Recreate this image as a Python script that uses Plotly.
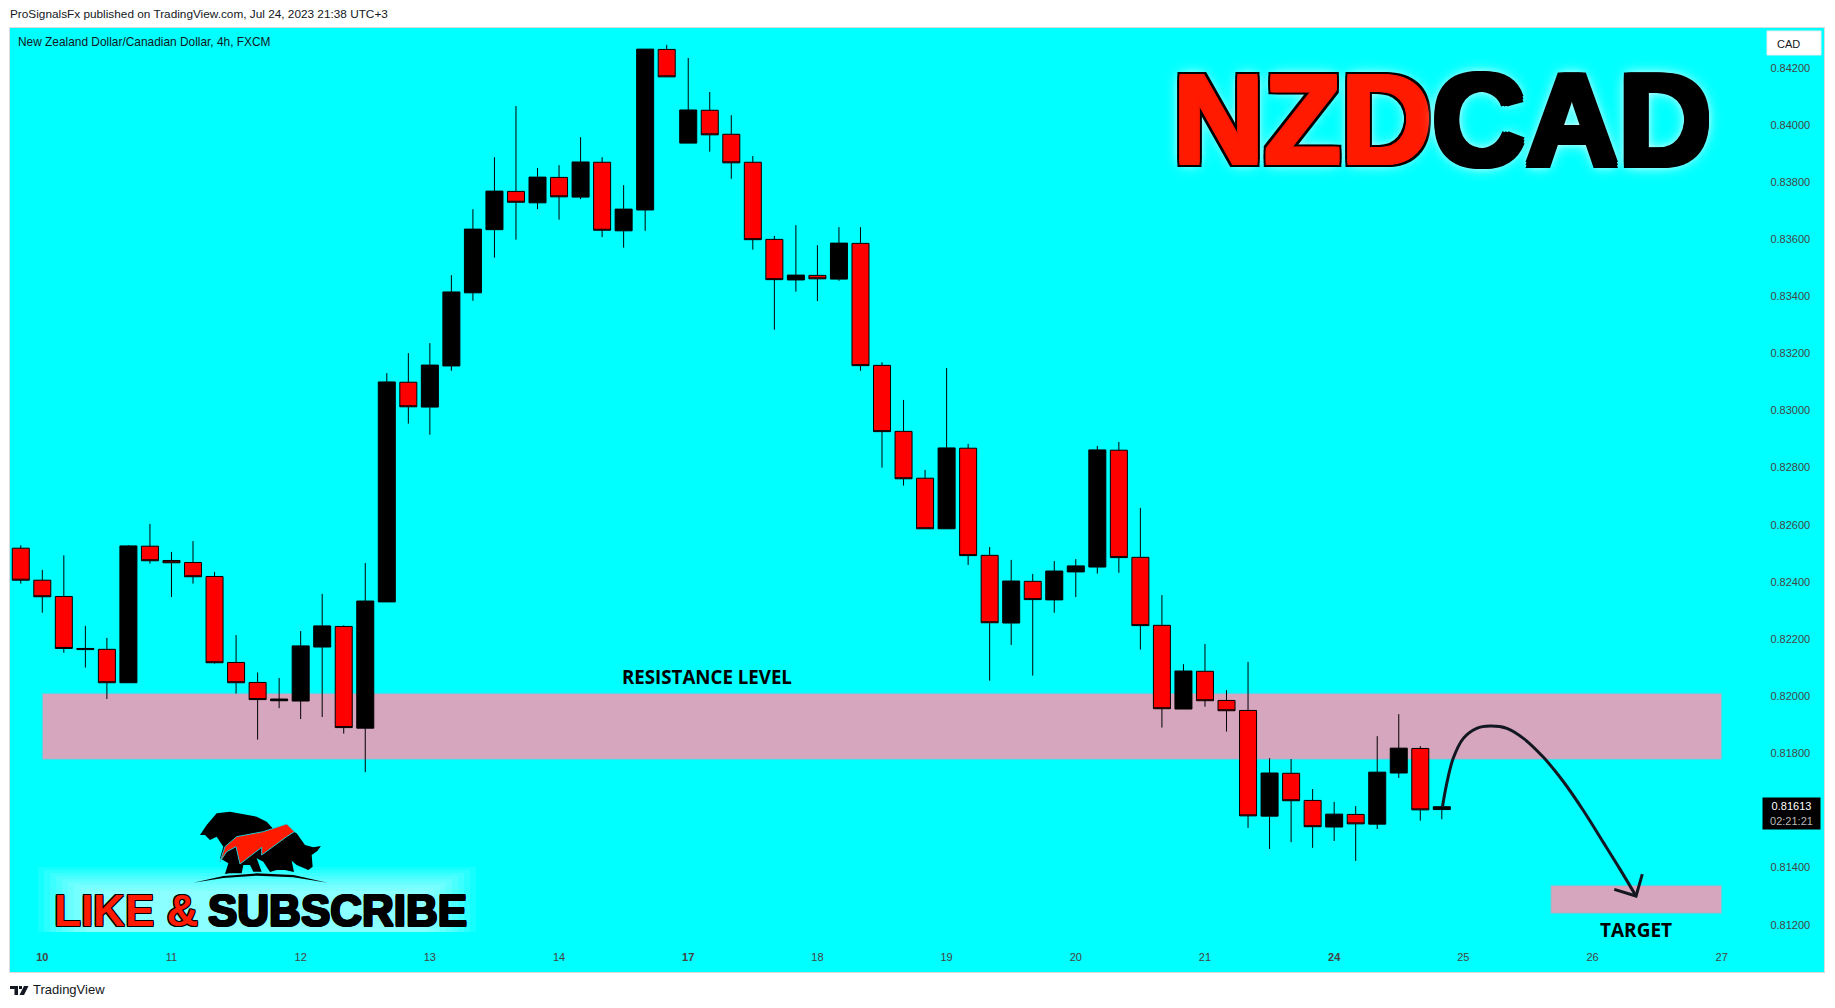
import plotly.graph_objects as go

# ---------- data ----------
opens = [.82518,.82406,.82349,.82163,.82164,.82047,.82525,.82475,.82468,.82419,.82118,.82048,.81984,.81983,.82172,.82244,.81888,.82330,.83099,.83012,.83156,.83412,.83633,.83767,.83727,.83816,.83747,.83869,.83629,.83702,.84264,.83936,.84051,.83967,.83869,.83599,.83457,.83473,.83460,.83585,.83158,.82927,.82763,.82586,.82868,.82493,.82256,.82402,.82337,.82435,.82452,.82861,.82486,.82248,.81955,.82087,.81985,.81950,.81580,.81730,.81635,.81542,.81586,.81552,.81731,.81817,.81603]
highs = [.82528,.82442,.82493,.82246,.82204,.82529,.82603,.82505,.82543,.82435,.82214,.82083,.82064,.82228,.82358,.82248,.82466,.83131,.83201,.83236,.83474,.83705,.83887,.84066,.83849,.83859,.83957,.83887,.83789,.84265,.84280,.84234,.84115,.84034,.83891,.83611,.83649,.83579,.83642,.83642,.83169,.83037,.82792,.83149,.82883,.82522,.82477,.82428,.82473,.82480,.82876,.82890,.82659,.82354,.82112,.82183,.82021,.82120,.81783,.81780,.81675,.81630,.81615,.81860,.81937,.81825,.81613]
lows = [.82394,.82292,.82152,.82100,.81990,.82047,.82464,.82347,.82394,.82114,.82009,.81848,.81958,.81920,.81927,.81869,.81734,.82330,.82954,.82915,.83139,.83384,.83535,.83598,.83705,.83668,.83740,.83607,.83570,.83629,.84168,.83936,.83906,.83811,.83563,.83283,.83416,.83383,.83454,.83139,.82800,.82737,.82586,.82586,.82459,.82054,.82179,.82072,.82292,.82347,.82429,.82432,.82163,.81890,.81955,.81963,.81876,.81539,.81465,.81489,.81469,.81493,.81423,.81535,.81714,.81564,.81569]
closes = [.82406,.82348,.82167,.82167,.82047,.82526,.82474,.82467,.82418,.82117,.82047,.81988,.81990,.82176,.82246,.81890,.82333,.83100,.83013,.83159,.83415,.83635,.83768,.83729,.83817,.83748,.83870,.83631,.83705,.84265,.84168,.84052,.83965,.83867,.83598,.83458,.83474,.83461,.83586,.83157,.82926,.82761,.82586,.82869,.82492,.82257,.82403,.82338,.82438,.82456,.82862,.82485,.82247,.81956,.82088,.81984,.81949,.81581,.81731,.81634,.81543,.81587,.81553,.81734,.81818,.81602,.81613]

candle_index = list(range(len(opens)))
day_ticks = [1, 7, 13, 19, 25, 31, 37, 43, 49, 55, 61, 67, 73, 79]
day_labels = ["<b>10</b>", "11", "12", "13", "14", "<b>17</b>", "18", "19", "20", "21", "<b>24</b>", "25", "26", "27"]
# 0.81600 sits behind the live price label in the reference, so it is not shown
price_ticks = [.812, .814, .818, .820, .822, .824, .826, .828, .830, .832, .834, .836, .838, .840, .842]

resistance_zone = dict(x0=1, x1=79, y0=.817789, y1=.820099)
target_zone = dict(x0=71.06, x1=79, y0=.812397, y1=.813377)

curve_x = [66.03, 66.23, 66.53, 67.0, 67.62, 68.24, 69.02, 69.79, 70.72, 71.65, 72.58, 73.5, 74.28, 75.02]
curve_y = [.81613, .816948, .817824, .818523, .818874, .818954, .818874, .818523, .817858, .817004, .815989, .814883, .813937, .813003]
head_x = [74.01, 75.02, 75.31]
head_y = [.813237, .813003, .813773]

INK = "#131722"
# ---------- figure geometry ----------
W, H = 1835, 1008
L, R, T, B = 10, 1824, 28, 972


def paper_x(p):
    return (p - L) / (R - L)


def paper_y(p):
    return (B - p) / (B - T)


def note(text, x, y, size, color=INK, family="Liberation Sans", xanchor="left", weight=None, shadow=None):
    font = dict(family=family, size=size, color=color)
    if weight:
        font["weight"] = weight
    if shadow:
        font["shadow"] = shadow
    return dict(text=text, x=paper_x(x), y=paper_y(y), xref="paper", yref="paper", showarrow=False,
                xanchor=xanchor, yanchor="middle", font=font, borderpad=0)


def ring(px, colour):
    return [f"{dx}px {dy}px 0 {colour}" for dx, dy in
            [(px, 0), (-px, 0), (0, px), (0, -px), (px, px), (-px, px), (px, -px), (-px, -px)]]


def logo_path(points):
    pts = [(30 + a / 3, 790 + b / 3) for a, b in points]
    return "M " + " L ".join(f"{paper_x(a):.5f},{paper_y(b):.5f}" for a, b in pts) + " Z"


def px_path(points):
    return "M " + " L ".join(f"{paper_x(a):.5f},{paper_y(b):.5f}" for a, b in points) + " Z"


animal = [(510,135),(530,105),(560,70),(600,65),(680,80),(710,95),(728,115),(760,110),(800,130),(825,165),(850,172),(873,168),(862,183),(845,195),(848,230),(835,240),(800,225),(785,212),(792,246),(765,240),(740,240),(720,246),(700,215),(680,205),(695,245),(670,245),(660,225),(640,225),(635,250),(600,250),(585,252),(595,220),(570,205),(580,170),(560,140),(540,150),(525,135)]
red_flash = [(570,215),(585,170),(620,140),(700,125),(770,102),(793,125),(770,140),(695,195),(695,172),(630,222),(618,170),(590,185)]
ground = [(490,278),(580,258),(680,250),(790,255),(893,278),(790,262),(680,257),(580,264)]
tv_bar = [(10,986),(18,986),(18,995),(14.5,995),(14.5,989),(10,989)]
tv_dot = [(19,986),(22,986),(22,989),(19,989)]
tv_slash = [(24,986),(28.5,986),(24,995),(19.5,995)]

fig = go.Figure()
fig.add_trace(go.Candlestick(
    x=candle_index, open=opens, high=highs, low=lows, close=closes,
    increasing=dict(fillcolor="#000000", line=dict(color="#000000", width=1)),
    decreasing=dict(fillcolor="#FF0000", line=dict(color="#000000", width=1)),
    whiskerwidth=0, showlegend=False, hoverinfo="skip",
))
fig.add_trace(go.Scatter(x=curve_x, y=curve_y, mode="lines", line=dict(color=INK, width=3, shape="spline", smoothing=1),
                         showlegend=False, hoverinfo="skip"))
fig.add_trace(go.Scatter(x=head_x, y=head_y, mode="lines", line=dict(color=INK, width=3),
                         showlegend=False, hoverinfo="skip"))

zone_style = dict(type="rect", fillcolor="#D5A6BD", line=dict(color="#4FD8E6", width=1), layer="below")
shapes = [dict(**zone_style, **resistance_zone), dict(**zone_style, **target_zone)]
# soft pale glow behind the subscribe banner
for k in range(9):
    shapes.append(dict(type="rect", xref="paper", yref="paper", x0=paper_x(38 + k * 6), x1=paper_x(476 - k * 6),
                       y0=paper_y(932), y1=paper_y(867 + k * 3), fillcolor="rgba(255,255,255,0.085)", line=dict(width=0)))
for pts, colour in [(animal, "#000000"), (red_flash, "#FF1A00"), (ground, "#000000")]:
    shapes.append(dict(type="path", xref="paper", yref="paper", path=logo_path(pts), fillcolor=colour, line=dict(width=0)))
shapes.append(dict(type="path", xref="paper", yref="paper", path=logo_path(red_flash), fillcolor="rgba(0,0,0,0)", line=dict(color="#20C8D0", width=1)))
for pts in (tv_bar, tv_dot, tv_slash):
    shapes.append(dict(type="path", xref="paper", yref="paper", path=px_path(pts), fillcolor=INK, line=dict(width=0)))
# white CAD chip
shapes.append(dict(type="rect", xref="paper", yref="paper", x0=paper_x(1767), x1=paper_x(1821), y0=paper_y(55), y1=paper_y(31),
                   fillcolor="#FFFFFF", line=dict(color="#E8ECEE", width=1)))

glow_big = ["0 0 16px rgba(255,255,255,0.95)", "0 0 8px rgba(255,255,255,0.95)"]
annotations = [
    note("ProSignalsFx published on TradingView.com, Jul 24, 2023 21:38 UTC+3", 8.7, 14.5, 11.8),
    note("New Zealand Dollar/Canadian Dollar, 4h, FXCM", 16.5, 42, 11.9),
    note("TradingView", 32, 989, 13),
    note("CAD", 1775.5, 43.5, 11),
    note("NZD", 1172, 119.5, 126, color="#FF1A00", weight=700,
         shadow=", ".join(ring(1, "#FF1A00") + ring(2, "#FF1A00") + ring(4, "#000") + glow_big)),
    note("CAD", 1431, 119.5, 129, color="#000000", weight=700,
         shadow=", ".join(ring(2, "#000") + ring(3, "#000") + glow_big)),
    note("LIKE &", 53, 910, 44, color="#FF1A00", weight=700, shadow=", ".join(ring(1, "#000"))),
    note("SUBSCRIBE", 207, 910, 44, color="#000000", weight=700, shadow=", ".join(ring(1, "#000"))),
    dict(text="RESISTANCE LEVEL", x=31.87, y=.82068, xref="x", yref="y", showarrow=False,
         font=dict(family="Open Sans", size=18.7, color="#000000", weight=700)),
    dict(text="TARGET", x=75.0, y=.811812, xref="x", yref="y", showarrow=False,
         font=dict(family="Open Sans", size=19, color="#000000", weight=700)),
    dict(text="0.81613<br><span style='color:#B8B8B8'>02:21:21</span>", x=paper_x(1791.5), y=paper_y(813.5),
         xref="paper", yref="paper", xanchor="center", yanchor="middle", showarrow=False,
         bgcolor="#000000", width=57, height=31, borderpad=0,
         font=dict(family="Liberation Sans", size=11, color="#FFFFFF")),
]

axis_line = dict(showline=True, linecolor="#D6DCE0", linewidth=1, mirror=True, showgrid=False, zeroline=False)
fig.update_layout(
    width=W, height=H, autosize=False,
    margin=dict(l=L, r=W - R, t=T, b=H - B, pad=0),
    paper_bgcolor="#FFFFFF", plot_bgcolor="#00FFFF",
    boxgap=0.21, boxgroupgap=0, showlegend=False,
    shapes=shapes, annotations=annotations,
    font=dict(family="Liberation Sans", size=11, color=INK),
    xaxis=dict(range=[-0.5, 83.75], rangeslider=dict(visible=False), tickmode="array",
               tickvals=day_ticks, ticktext=day_labels, ticklabelposition="inside", ticks="",
               ticklabelstandoff=8, **axis_line),
    yaxis=dict(range=[0.810344, 0.84339], side="right", tickmode="array", tickvals=price_ticks,
               tickformat=".5f", ticklabelposition="inside", ticks="", ticklabelstandoff=13, **axis_line),
)

fig.write_html("out.html", config=dict(displayModeBar=False),
               post_script="document.body.style.margin='0';document.body.style.overflow='hidden';")
